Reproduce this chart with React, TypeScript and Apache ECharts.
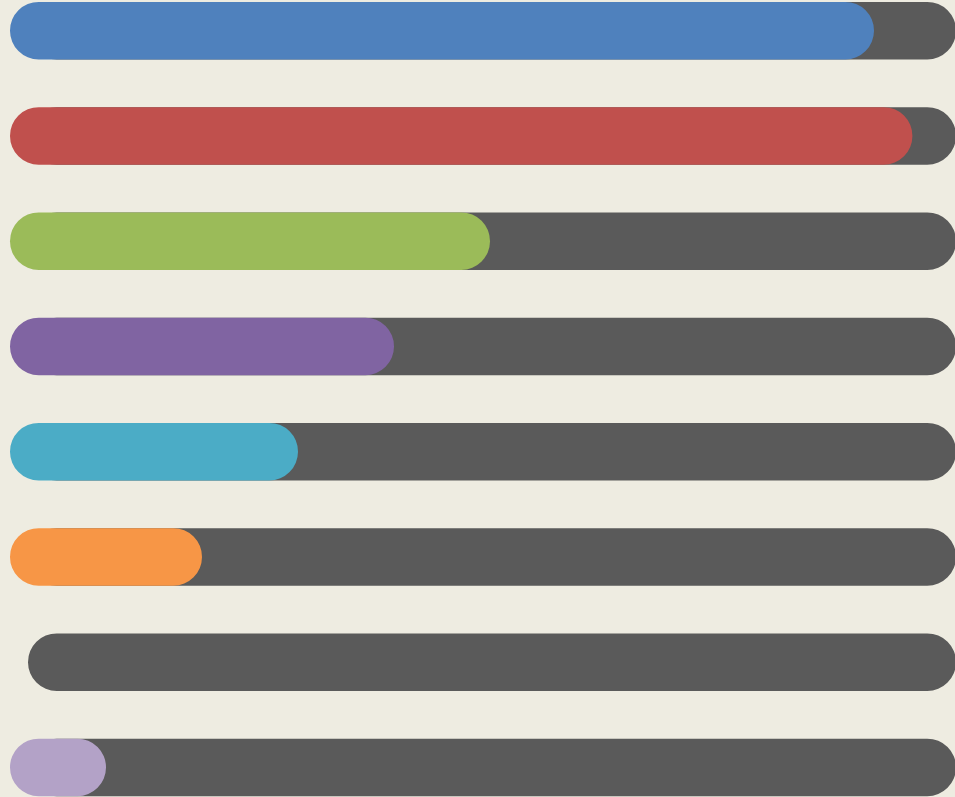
import React, { useEffect, useRef } from "react";
import * as echarts from "echarts";

const categories = ["A", "B", "C", "D", "E", "F", "G", "H"];
const values = [90, 94, 50, 40, 30, 20, 0, 10];
const trackValues = [100, 100, 100, 100, 100, 100, 100, 100];
const colors = ["#4F81BD", "#C0504D", "#9BBB59", "#8064A2", "#4BACC6", "#F79646", "#8C8C8C", "#B3A2C7"];

export default function App() {
  const ref = useRef<HTMLDivElement>(null);
  useEffect(() => {
    document.body.style.margin = "0";
    const chart = echarts.init(ref.current!, undefined, { renderer: "svg" });
    const yAxisBase = {
      type: "category" as const,
      data: categories,
      inverse: true,
      axisLine: { show: false },
      axisTick: { show: false },
      axisLabel: { show: false },
      splitLine: { show: false },
    };
    const xAxisBase = {
      type: "value" as const,
      min: 0,
      max: 100,
      axisLine: { show: false },
      axisTick: { show: false },
      axisLabel: { show: false },
      splitLine: { show: false },
    };
    chart.setOption({
      animation: false,
      backgroundColor: "#EEECE1",
      grid: [
        { left: 28, right: 19, top: 0, bottom: 0 },
        { left: 10, right: 5, top: 0, bottom: 0 },
      ],
      xAxis: [
        { ...xAxisBase, gridIndex: 0 },
        { ...xAxisBase, gridIndex: 1 },
      ],
      yAxis: [
        { ...yAxisBase, gridIndex: 0 },
        { ...yAxisBase, gridIndex: 1 },
      ],
      series: [
        {
          type: "bar",
          xAxisIndex: 0,
          yAxisIndex: 0,
          data: trackValues,
          barWidth: 57.5,
          itemStyle: { color: "#5A5A5A", borderRadius: 29 },
          silent: true,
        },
        {
          type: "bar",
          xAxisIndex: 1,
          yAxisIndex: 1,
          data: values.map((v, i) => ({ value: v, itemStyle: { color: colors[i] } })),
          barWidth: 57.5,
          itemStyle: { borderRadius: 29 },
          silent: true,
        },
      ],
    });
    return () => chart.dispose();
  }, []);
  return (
    <div
      style={{
        position: "fixed",
        left: 0,
        top: 0,
        width: 955,
        height: 797,
        overflow: "hidden",
        background: "#EEECE1",
      }}
    >
      <div ref={ref} style={{ position: "absolute", left: 0, top: -22, width: 975, height: 842 }} />
    </div>
  );
}
